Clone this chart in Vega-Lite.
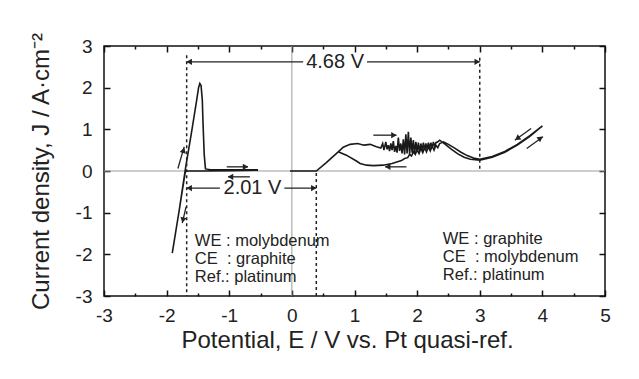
{
  "$schema": "https://vega.github.io/schema/vega-lite/v6.json",
  "width": 501,
  "height": 250,
  "autosize": {"type": "none"},
  "padding": {"left": 104, "top": 46, "right": 34, "bottom": 83},
  "background": "white",
  "config": {
    "view": {"stroke": "#111", "strokeWidth": 1.5},
    "font": "Liberation Sans",
    "axis": {
      "domain": false,
      "labelFont": "Liberation Sans",
      "titleFont": "Liberation Sans",
      "labelColor": "#222",
      "titleColor": "#222",
      "tickColor": "#111",
      "tickWidth": 1.5,
      "labelFontSize": 19,
      "titleFontSize": 24,
      "titleFontWeight": "normal"
    }
  },
  "datasets": {
    "curves": [
      {"s": "Mo", "i": 0, "E": -0.54, "J": 0.02},
      {"s": "Mo", "i": 1, "E": -1.0, "J": 0.01},
      {"s": "Mo", "i": 2, "E": -1.4, "J": 0.0},
      {"s": "Mo", "i": 3, "E": -1.7, "J": 0.0},
      {"s": "Mo", "i": 4, "E": -1.8, "J": -0.95},
      {"s": "Mo", "i": 5, "E": -1.91, "J": -1.97},
      {"s": "Mo", "i": 6, "E": -1.8, "J": -0.95},
      {"s": "Mo", "i": 7, "E": -1.7, "J": 0.05},
      {"s": "Mo", "i": 8, "E": -1.6, "J": 0.95},
      {"s": "Mo", "i": 9, "E": -1.52, "J": 1.7},
      {"s": "Mo", "i": 10, "E": -1.49, "J": 2.0},
      {"s": "Mo", "i": 11, "E": -1.47, "J": 2.1},
      {"s": "Mo", "i": 12, "E": -1.45, "J": 2.05},
      {"s": "Mo", "i": 13, "E": -1.43, "J": 1.7},
      {"s": "Mo", "i": 14, "E": -1.42, "J": 1.2},
      {"s": "Mo", "i": 15, "E": -1.4, "J": 0.4},
      {"s": "Mo", "i": 16, "E": -1.38, "J": 0.05},
      {"s": "Mo", "i": 17, "E": -1.3, "J": 0.03},
      {"s": "Mo", "i": 18, "E": -0.54, "J": 0.03},
      {"s": "G", "i": 0, "E": -0.03, "J": 0.0},
      {"s": "G", "i": 1, "E": 0.39, "J": 0.0},
      {"s": "G", "i": 2, "E": 0.55, "J": 0.2},
      {"s": "G", "i": 3, "E": 0.74, "J": 0.46},
      {"s": "G", "i": 4, "E": 0.82, "J": 0.57},
      {"s": "G", "i": 5, "E": 0.93, "J": 0.64},
      {"s": "G", "i": 6, "E": 1.05, "J": 0.66},
      {"s": "G", "i": 7, "E": 1.15, "J": 0.62},
      {"s": "G", "i": 8, "E": 1.25, "J": 0.64},
      {"s": "G", "i": 9, "E": 1.35, "J": 0.58},
      {"s": "G", "i": 10, "E": 1.42, "J": 0.55},
      {"s": "G", "i": 11, "E": 1.45, "J": 0.66},
      {"s": "G", "i": 12, "E": 1.47, "J": 0.5},
      {"s": "G", "i": 13, "E": 1.5, "J": 0.7},
      {"s": "G", "i": 14, "E": 1.52, "J": 0.52},
      {"s": "G", "i": 15, "E": 1.54, "J": 0.62},
      {"s": "G", "i": 16, "E": 1.56, "J": 0.48},
      {"s": "G", "i": 17, "E": 1.58, "J": 0.66},
      {"s": "G", "i": 18, "E": 1.6, "J": 0.5},
      {"s": "G", "i": 19, "E": 1.62, "J": 0.72},
      {"s": "G", "i": 20, "E": 1.64, "J": 0.46},
      {"s": "G", "i": 21, "E": 1.66, "J": 0.6},
      {"s": "G", "i": 22, "E": 1.68, "J": 0.44},
      {"s": "G", "i": 23, "E": 1.7, "J": 0.8},
      {"s": "G", "i": 24, "E": 1.72, "J": 0.48},
      {"s": "G", "i": 25, "E": 1.74, "J": 0.66},
      {"s": "G", "i": 26, "E": 1.76, "J": 0.42},
      {"s": "G", "i": 27, "E": 1.78, "J": 0.76},
      {"s": "G", "i": 28, "E": 1.8, "J": 0.4},
      {"s": "G", "i": 29, "E": 1.82, "J": 0.88},
      {"s": "G", "i": 30, "E": 1.84, "J": 0.42},
      {"s": "G", "i": 31, "E": 1.86, "J": 0.94},
      {"s": "G", "i": 32, "E": 1.88, "J": 0.4},
      {"s": "G", "i": 33, "E": 1.9, "J": 0.8},
      {"s": "G", "i": 34, "E": 1.92, "J": 0.44},
      {"s": "G", "i": 35, "E": 1.94, "J": 0.74},
      {"s": "G", "i": 36, "E": 1.96, "J": 0.42},
      {"s": "G", "i": 37, "E": 1.98, "J": 0.7},
      {"s": "G", "i": 38, "E": 2.0, "J": 0.46},
      {"s": "G", "i": 39, "E": 2.02, "J": 0.68},
      {"s": "G", "i": 40, "E": 2.04, "J": 0.44},
      {"s": "G", "i": 41, "E": 2.06, "J": 0.66},
      {"s": "G", "i": 42, "E": 2.08, "J": 0.48},
      {"s": "G", "i": 43, "E": 2.1, "J": 0.68},
      {"s": "G", "i": 44, "E": 2.12, "J": 0.5},
      {"s": "G", "i": 45, "E": 2.14, "J": 0.66},
      {"s": "G", "i": 46, "E": 2.16, "J": 0.52},
      {"s": "G", "i": 47, "E": 2.18, "J": 0.68},
      {"s": "G", "i": 48, "E": 2.2, "J": 0.54},
      {"s": "G", "i": 49, "E": 2.22, "J": 0.68},
      {"s": "G", "i": 50, "E": 2.24, "J": 0.56},
      {"s": "G", "i": 51, "E": 2.26, "J": 0.7},
      {"s": "G", "i": 52, "E": 2.28, "J": 0.58},
      {"s": "G", "i": 53, "E": 2.3, "J": 0.68},
      {"s": "G", "i": 54, "E": 2.33, "J": 0.7},
      {"s": "G", "i": 55, "E": 2.36, "J": 0.74},
      {"s": "G", "i": 56, "E": 2.45, "J": 0.64},
      {"s": "G", "i": 57, "E": 2.55, "J": 0.52},
      {"s": "G", "i": 58, "E": 2.65, "J": 0.41},
      {"s": "G", "i": 59, "E": 2.75, "J": 0.33},
      {"s": "G", "i": 60, "E": 2.85, "J": 0.28},
      {"s": "G", "i": 61, "E": 3.0, "J": 0.26},
      {"s": "G", "i": 62, "E": 3.2, "J": 0.33},
      {"s": "G", "i": 63, "E": 3.4, "J": 0.45},
      {"s": "G", "i": 64, "E": 3.6, "J": 0.62},
      {"s": "G", "i": 65, "E": 3.8, "J": 0.83},
      {"s": "G", "i": 66, "E": 4.0, "J": 1.08},
      {"s": "G", "i": 67, "E": 3.8, "J": 0.85},
      {"s": "G", "i": 68, "E": 3.6, "J": 0.64},
      {"s": "G", "i": 69, "E": 3.4, "J": 0.47},
      {"s": "G", "i": 70, "E": 3.2, "J": 0.35},
      {"s": "G", "i": 71, "E": 3.0, "J": 0.28},
      {"s": "G", "i": 72, "E": 2.9, "J": 0.31},
      {"s": "G", "i": 73, "E": 2.8, "J": 0.37},
      {"s": "G", "i": 74, "E": 2.7, "J": 0.45},
      {"s": "G", "i": 75, "E": 2.6, "J": 0.55},
      {"s": "G", "i": 76, "E": 2.5, "J": 0.64},
      {"s": "G", "i": 77, "E": 2.42, "J": 0.7},
      {"s": "G", "i": 78, "E": 2.36, "J": 0.66},
      {"s": "G", "i": 79, "E": 2.33, "J": 0.56},
      {"s": "G", "i": 80, "E": 2.3, "J": 0.62},
      {"s": "G", "i": 81, "E": 2.27, "J": 0.5},
      {"s": "G", "i": 82, "E": 2.24, "J": 0.6},
      {"s": "G", "i": 83, "E": 2.21, "J": 0.48},
      {"s": "G", "i": 84, "E": 2.18, "J": 0.58},
      {"s": "G", "i": 85, "E": 2.15, "J": 0.46},
      {"s": "G", "i": 86, "E": 2.12, "J": 0.56},
      {"s": "G", "i": 87, "E": 2.09, "J": 0.44},
      {"s": "G", "i": 88, "E": 2.06, "J": 0.54},
      {"s": "G", "i": 89, "E": 2.03, "J": 0.42},
      {"s": "G", "i": 90, "E": 2.0, "J": 0.5},
      {"s": "G", "i": 91, "E": 1.97, "J": 0.4},
      {"s": "G", "i": 92, "E": 1.94, "J": 0.46},
      {"s": "G", "i": 93, "E": 1.91, "J": 0.36},
      {"s": "G", "i": 94, "E": 1.88, "J": 0.4},
      {"s": "G", "i": 95, "E": 1.85, "J": 0.32},
      {"s": "G", "i": 96, "E": 1.8, "J": 0.3},
      {"s": "G", "i": 97, "E": 1.75, "J": 0.25},
      {"s": "G", "i": 98, "E": 1.6, "J": 0.18},
      {"s": "G", "i": 99, "E": 1.46, "J": 0.14},
      {"s": "G", "i": 100, "E": 1.3, "J": 0.13},
      {"s": "G", "i": 101, "E": 1.19, "J": 0.14},
      {"s": "G", "i": 102, "E": 1.09, "J": 0.18},
      {"s": "G", "i": 103, "E": 1.03, "J": 0.24},
      {"s": "G", "i": 104, "E": 0.87, "J": 0.38},
      {"s": "G", "i": 105, "E": 0.74, "J": 0.46}
    ],
    "dashed": [
      {"E": -1.68, "J": 2.78, "J2": -3},
      {"E": 0.39, "J": -0.05, "J2": -3},
      {"E": 3.0, "J": 2.72, "J2": 0.0}
    ],
    "zero": [
      {"E": 0, "J": -3, "J2": 3, "E1": -3, "E2": 5, "Jz": 0}
    ],
    "arrows": [
      {"E": -1.68, "J": 2.62, "E2": 0.18, "J2": 2.62},
      {"E": 1.2, "J": 2.62, "E2": 3.0, "J2": 2.62},
      {"E": -1.68, "J": -0.41, "E2": -1.15, "J2": -0.41},
      {"E": -0.12, "J": -0.41, "E2": 0.39, "J2": -0.41},
      {"E": -1.04, "J": 0.1, "E2": -0.7, "J2": 0.1},
      {"E": -0.67, "J": -0.14, "E2": -1.02, "J2": -0.14},
      {"E": -1.82, "J": 0.06, "E2": -1.72, "J2": 0.58},
      {"E": -1.69, "J": -0.86, "E2": -1.75, "J2": -1.25},
      {"E": 1.3, "J": 0.86, "E2": 1.67, "J2": 0.86},
      {"E": 1.83, "J": 0.1, "E2": 1.49, "J2": 0.1},
      {"E": 3.82, "J": 1.02, "E2": 3.56, "J2": 0.74},
      {"E": 3.75, "J": 0.54, "E2": 4.01, "J2": 0.82}
    ],
    "heads": [
      {"E": -1.64, "J": 2.62, "ang": 270},
      {"E": 2.96, "J": 2.62, "ang": 90},
      {"E": -1.64, "J": -0.41, "ang": 270},
      {"E": 0.35, "J": -0.41, "ang": 90},
      {"E": -0.74, "J": 0.1, "ang": 90},
      {"E": -0.98, "J": -0.14, "ang": 270},
      {"E": -1.73, "J": 0.5, "ang": 16},
      {"E": -1.74, "J": -1.18, "ang": 193},
      {"E": 1.63, "J": 0.86, "ang": 90},
      {"E": 1.53, "J": 0.1, "ang": 270},
      {"E": 3.6, "J": 0.78, "ang": 234},
      {"E": 3.97, "J": 0.79, "ang": 54}
    ],
    "dims": [
      {"E": 0.69, "J": 2.62, "t": "4.68 V"},
      {"E": -0.63, "J": -0.41, "t": "2.01 V"}
    ],
    "notes": [
      {"E": -1.55, "J": -1.68, "t": "WE : molybdenum"},
      {"E": -1.55, "J": -2.11, "t": "CE\u00a0\u00a0: graphite"},
      {"E": -1.55, "J": -2.54, "t": "Ref.: platinum"},
      {"E": 2.41, "J": -1.63, "t": "WE : graphite"},
      {"E": 2.41, "J": -2.06, "t": "CE\u00a0\u00a0: molybdenum"},
      {"E": 2.41, "J": -2.49, "t": "Ref.: platinum"}
    ]
  },
  "layer": [
    {
      "data": {"name": "zero"},
      "mark": {"type": "rule", "color": "#9a9a9a", "strokeWidth": 1},
      "encoding": {
        "x": {
          "field": "E", "type": "quantitative",
          "scale": {"domain": [-3, 5], "nice": false, "zero": false},
          "axis": {
            "orient": "bottom",
            "offset": -6,
            "values": [-3, -2.5, -2, -1.5, -1, -0.5, 0, 0.5, 1, 1.5, 2, 2.5, 3, 3.5, 4, 4.5, 5],
            "labelExpr": "datum.value % 1 ? '' : (datum.value < 0 ? '-' : '') + abs(datum.value)",
            "tickSize": 6,
            "tickDash": {"condition": {"test": "datum.value % 1 !== 0", "value": [0, 3, 3, 0]}, "value": []},
            "labelPadding": 10,
            "labelFlush": false,
            "labelOverlap": false,
            "title": "Potential, E / V vs. Pt quasi-ref.",
            "titlePadding": 3,
            "titleX": 243,
            "grid": false
          }
        },
        "y": {
          "field": "J", "type": "quantitative",
          "scale": {"domain": [-3, 3], "nice": false, "zero": false},
          "axis": {
            "orient": "left",
            "offset": -6,
            "values": [-3, -2, -1, 0, 1, 2, 3],
            "labelExpr": "(datum.value < 0 ? '-' : '') + abs(datum.value)",
            "tickSize": 6,
            "labelPadding": 12,
            "labelFlush": false,
            "labelOverlap": false,
            "title": "Current density, J / A·cm⁻²",
            "titlePadding": 22,
            "grid": false
          }
        },
        "y2": {"field": "J2"}
      }
    },
    {
      "data": {"name": "zero"},
      "mark": {"type": "rule", "color": "#9a9a9a", "strokeWidth": 1},
      "encoding": {
        "x": {"field": "E1", "type": "quantitative", "axis": null},
        "x2": {"field": "E2"},
        "y": {"field": "Jz", "type": "quantitative", "axis": null}
      }
    },
    {
      "data": {"name": "curves"},
      "mark": {"type": "line", "color": "#1a1a1a", "strokeWidth": 1.6},
      "encoding": {
        "x": {"field": "E", "type": "quantitative", "axis": null},
        "y": {"field": "J", "type": "quantitative", "axis": null},
        "detail": {"field": "s", "type": "nominal"},
        "order": {"field": "i", "type": "quantitative"}
      }
    },
    {
      "data": {"name": "dashed"},
      "mark": {"type": "rule", "color": "#222", "strokeWidth": 1.5, "strokeDash": [3, 3]},
      "encoding": {
        "x": {
          "field": "E", "type": "quantitative",
          "axis": {
            "orient": "top",
            "offset": -6,
            "values": [-3, -2.5, -2, -1.5, -1, -0.5, 0, 0.5, 1, 1.5, 2, 2.5, 3, 3.5, 4, 4.5, 5],
            "labels": false,
            "title": null,
            "grid": false,
            "tickSize": 6,
            "tickDash": {"condition": {"test": "datum.value % 1 !== 0", "value": [0, 3, 3, 0]}, "value": []}
          }
        },
        "y": {
          "field": "J", "type": "quantitative",
          "axis": {
            "orient": "right",
            "offset": -6,
            "values": [-3, -2, -1, 0, 1, 2, 3],
            "labels": false,
            "title": null,
            "grid": false,
            "tickSize": 6
          }
        },
        "y2": {"field": "J2"}
      }
    },
    {
      "data": {"name": "arrows"},
      "mark": {"type": "rule", "color": "#222", "strokeWidth": 1.3},
      "encoding": {
        "x": {"field": "E", "type": "quantitative", "axis": null},
        "y": {"field": "J", "type": "quantitative", "axis": null},
        "x2": {"field": "E2"},
        "y2": {"field": "J2"}
      }
    },
    {
      "data": {"name": "heads"},
      "mark": {"type": "point", "shape": "triangle-up", "filled": true, "color": "#222", "size": 40, "opacity": 1},
      "encoding": {
        "x": {"field": "E", "type": "quantitative", "axis": null},
        "y": {"field": "J", "type": "quantitative", "axis": null},
        "angle": {"field": "ang", "type": "quantitative", "scale": null}
      }
    },
    {
      "data": {"name": "dims"},
      "mark": {"type": "text", "font": "Liberation Sans", "fontSize": 20, "color": "#222", "align": "center", "baseline": "middle"},
      "encoding": {
        "x": {"field": "E", "type": "quantitative", "axis": null},
        "y": {"field": "J", "type": "quantitative", "axis": null},
        "text": {"field": "t"}
      }
    },
    {
      "data": {"name": "notes"},
      "mark": {"type": "text", "font": "Liberation Sans", "fontSize": 16.5, "color": "#222", "align": "left", "baseline": "middle"},
      "encoding": {
        "x": {"field": "E", "type": "quantitative", "axis": null},
        "y": {"field": "J", "type": "quantitative", "axis": null},
        "text": {"field": "t"}
      }
    }
  ],
  "resolve": {"axis": {"x": "independent", "y": "independent"}}
}
